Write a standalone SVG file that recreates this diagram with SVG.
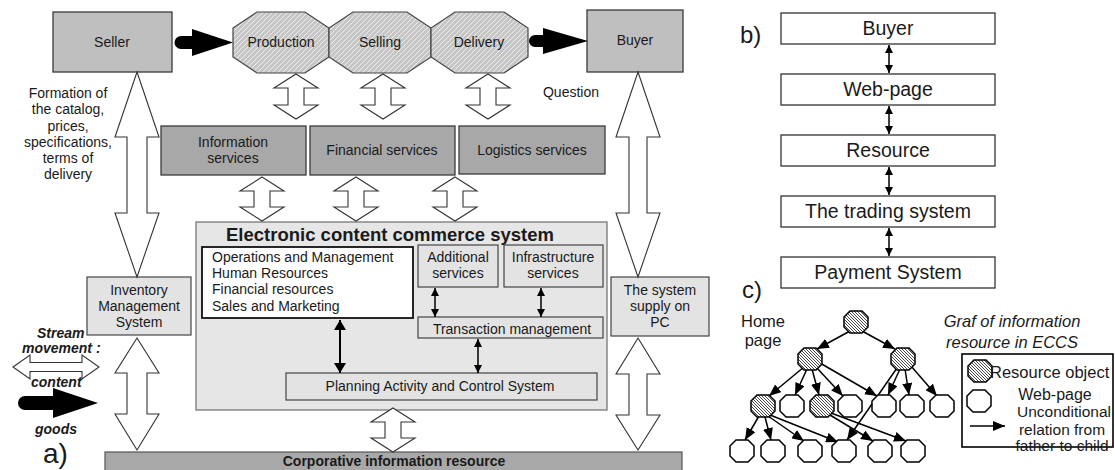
<svg xmlns="http://www.w3.org/2000/svg" width="1115" height="470" viewBox="0 0 1115 470">
<style>
text{font-family:"Liberation Sans",Arial,sans-serif;fill:#1a1a1a;}
.t14{font-size:14px;}
.mid{text-anchor:middle;}
.boxD{fill:#bfbfbf;stroke:#3a3a3a;stroke-width:1.3;}
.boxS{fill:#a8a8a8;stroke:#3a3a3a;stroke-width:1.3;}
.boxL{fill:#e3e3e3;stroke:#444;stroke-width:1.2;}
.boxW{fill:#fff;stroke:#111;stroke-width:1.8;}
.boxB{fill:#fff;stroke:#333;stroke-width:1.3;}
.oct{fill:url(#hatchG);stroke:#444;stroke-width:1.2;}
.hol{fill:#fff;stroke:#333;stroke-width:1.1;}
.blk{fill:#000;stroke:none;}
.dbl{stroke:#000;stroke-width:2;fill:none;marker-start:url(#hb);marker-end:url(#hb);}
.dbs{stroke:#000;stroke-width:1.5;fill:none;marker-start:url(#hs);marker-end:url(#hs);}
.edge{stroke:#000;stroke-width:1.5;fill:none;marker-end:url(#he);}
.gw{fill:#fff;stroke:#000;stroke-width:1.5;}
.gh{fill:url(#hatchK);stroke:#000;stroke-width:1.5;}
.bi{font-weight:bold;font-style:italic;font-size:14px;}
</style>
<defs>
<pattern id="hatchG" patternUnits="userSpaceOnUse" width="5" height="5">
<rect width="5" height="5" fill="#c6c6c6"/>
<path d="M-1,1 l2,-2 M0,5 l5,-5 M4,6 l2,-2" stroke="#ececec" stroke-width="1"/>
</pattern>
<pattern id="hatchK" patternUnits="userSpaceOnUse" width="3" height="3">
<rect width="3" height="3" fill="#fff"/>
<path d="M-1,-1 l5,5 M-1,2 l2,2 M2,-1 l2,2" stroke="#333" stroke-width="0.9"/>
</pattern>
<marker id="hb" viewBox="0 0 10 12" refX="10" refY="6" markerWidth="11" markerHeight="12" markerUnits="userSpaceOnUse" orient="auto-start-reverse">
<path d="M0,0 L10,6 L0,12 z" fill="#000"/>
</marker>
<marker id="hs" viewBox="0 0 10 10" refX="10" refY="5" markerWidth="8" markerHeight="9" markerUnits="userSpaceOnUse" orient="auto-start-reverse">
<path d="M0,0 L10,5 L0,10 z" fill="#000"/>
</marker>
<marker id="he" viewBox="0 0 12 10" refX="12" refY="5" markerWidth="12" markerHeight="10" markerUnits="userSpaceOnUse" orient="auto">
<path d="M0,0 L12,5 L0,10 z" fill="#000"/>
</marker>
<polygon id="octW" class="gw" points="-6,-11 6,-11 12,-5 12,5 6,11 -6,11 -12,5 -12,-5"/>
<polygon id="octH" class="gh" points="-6,-11 6,-11 12,-5 12,5 6,11 -6,11 -12,5 -12,-5"/>
</defs>
<rect width="1115" height="470" fill="#fff"/>

<!-- Part a -->
<g id="seller"><rect class="boxD" x="53" y="12" width="119" height="60"/><text class="t14 mid" x="112" y="47">Seller</text></g>
<g id="production"><polygon class="oct" points="257,12 305,12 329,28 329,57 305,73 257,73 233,57 233,28"/><text class="t14 mid" x="281" y="47">Production</text></g>
<g id="selling"><polygon class="oct" points="353,12 407,12 431,28 431,57 407,73 353,73 329,57 329,28"/><text class="t14 mid" x="380" y="47">Selling</text></g>
<g id="delivery"><polygon class="oct" points="455,12 504,12 528,28 528,57 504,73 455,73 431,57 431,28"/><text class="t14 mid" x="479" y="47">Delivery</text></g>
<g id="buyer"><rect class="boxD" x="587" y="10" width="96" height="62"/><text class="t14 mid" x="635" y="45">Buyer</text></g>
<g id="question"><text class="t14 mid" x="571" y="97" fill="#333">Question</text></g>
<g id="formation"><text class="t14 mid" fill="#333"><tspan x="68" y="98">Formation of</tspan><tspan x="68" y="114">the catalog,</tspan><tspan x="68" y="131">prices,</tspan><tspan x="68" y="147">specifications,</tspan><tspan x="68" y="163">terms of</tspan><tspan x="68" y="179">delivery</tspan></text></g>

<g id="info-services"><rect class="boxS" x="161" y="126" width="145" height="49"/><text class="t14 mid"><tspan x="233" y="147">Information</tspan><tspan x="233" y="163">services</tspan></text></g>
<g id="fin-services"><rect class="boxS" x="310" y="126" width="145" height="49"/><text class="t14 mid" x="382" y="155">Financial services</text></g>
<g id="log-services"><rect class="boxS" x="459" y="126" width="146" height="48"/><text class="t14 mid" x="532" y="155">Logistics services</text></g>

<g id="eccs"><rect x="196" y="222" width="411" height="188" fill="#e6e6e6" stroke="#777" stroke-width="1.3"/><text x="390" y="241" text-anchor="middle" font-size="18.5" font-weight="bold">Electronic content commerce system</text></g>
<g id="operations"><rect class="boxW" x="202" y="247" width="211" height="71"/><text class="t14"><tspan x="212" y="262">Operations and Management</tspan><tspan x="212" y="278">Human Resources</tspan><tspan x="212" y="294">Financial resources</tspan><tspan x="212" y="311">Sales and Marketing</tspan></text></g>
<g id="additional"><rect class="boxL" x="418" y="245" width="80" height="42"/><text class="t14 mid"><tspan x="458" y="262">Additional</tspan><tspan x="458" y="278">services</tspan></text></g>
<g id="infrastructure"><rect class="boxL" x="504" y="245" width="99" height="42"/><text class="t14 mid"><tspan x="553" y="262">Infrastructure</tspan><tspan x="553" y="278">services</tspan></text></g>
<g id="transaction"><rect class="boxL" x="418" y="317" width="185" height="21"/><text class="t14 mid" x="512" y="334">Transaction management</text></g>
<g id="planning"><rect class="boxL" x="286" y="373" width="311" height="27"/><text class="t14 mid" x="440" y="391">Planning Activity and Control System</text></g>

<g id="inventory"><rect class="boxL" x="87" y="277" width="104" height="58"/><text class="t14 mid"><tspan x="139" y="295">Inventory</tspan><tspan x="139" y="311">Management</tspan><tspan x="139" y="327">System</tspan></text></g>
<g id="supply"><rect class="boxL" x="611" y="277" width="98" height="59"/><text class="t14 mid"><tspan x="660" y="295">The system</tspan><tspan x="660" y="311">supply on</tspan><tspan x="660" y="327">PC</tspan></text></g>
<g id="corporative"><rect x="105" y="452" width="577" height="24" fill="#a8a8a8" stroke="#555" stroke-width="1.2"/><text x="394" y="466" text-anchor="middle" font-size="14" font-weight="bold">Corporative information resource</text></g>

<g id="legend-a">
<text class="bi" x="37" y="338">Stream</text>
<text class="bi" x="22" y="353">movement :</text>
<polygon class="hol" points="13,367 30,355 30,362.5 82,362.5 82,355 99,367 82,379 82,371.5 30,371.5 30,379"/>
<text class="bi" x="31" y="387">content</text>
<path class="blk" d="M53,396 L53,388 L98,403 L53,418 L53,410 L25,410 A7,7 0 0 1 25,396 Z"/>
<text class="bi" x="56" y="434" text-anchor="middle">goods</text>
<text x="43" y="463" font-size="28">a)</text>
</g>

<g id="connectors">
<path class="blk" d="M192,36 L192,29 L233,42.5 L192,56 L192,49 L181,49 A6.5,6.5 0 0 1 181,36 Z"/>
<path class="blk" d="M543,35 L543,28 L588,41 L543,54 L543,47 L535,47 A6,6 0 0 1 535,35 Z"/>
<polygon class="hol" points="296,74 318,88 304,88 304,105 318,105 296,119 274,105 288,105 288,88 274,88"/>
<polygon class="hol" points="383,74 405,88 391,88 391,105 405,105 383,119 361,105 375,105 375,88 361,88"/>
<polygon class="hol" points="488,74 510,88 496,88 496,105 510,105 488,119 466,105 480,105 480,88 466,88"/>
<polygon class="hol" points="262,177 284,191 270,191 270,207 284,207 262,221 240,207 254,207 254,191 240,191"/>
<polygon class="hol" points="356,177 378,191 364,191 364,207 378,207 356,221 334,207 348,207 348,191 334,191"/>
<polygon class="hol" points="455,177 477,191 463,191 463,207 477,207 455,221 433,207 447,207 447,191 433,191"/>
<polygon class="hol" points="393,408 415,422 401,422 401,438 415,438 393,452 371,438 385,438 385,422 371,422"/>
<polygon class="hol" points="137,72 159,137 147,137 147,213 159,213 137,277 115,213 127,213 127,137 115,137"/>
<polygon class="hol" points="638,72 660,137 647,137 647,213 660,213 638,277 616,213 629,213 629,137 616,137"/>
<polygon class="hol" points="137,338 159,373 147,373 147,414 159,414 137,450 115,414 127,414 127,373 115,373"/>
<polygon class="hol" points="638,338 660,374 647,374 647,415 660,415 638,450 616,415 629,415 629,374 616,374"/>
<line class="dbl" x1="340" y1="320" x2="340" y2="373"/>
<line class="dbs" x1="435" y1="288" x2="435" y2="317"/>
<line class="dbs" x1="541" y1="288" x2="541" y2="317"/>
<line class="dbs" x1="478" y1="339" x2="478" y2="373"/>
<line class="dbs" x1="889" y1="45" x2="889" y2="73"/>
<line class="dbs" x1="889" y1="106" x2="889" y2="134"/>
<line class="dbs" x1="889" y1="167" x2="889" y2="195"/>
<line class="dbs" x1="889" y1="228" x2="889" y2="256"/>
<line class="edge" x1="850" y1="331" x2="817" y2="349"/>
<line class="edge" x1="862" y1="331" x2="895" y2="349"/>
<line class="edge" x1="804" y1="367" x2="769" y2="396"/>
<line class="edge" x1="807" y1="369" x2="795" y2="395"/>
<line class="edge" x1="812" y1="369" x2="819" y2="395"/>
<line class="edge" x1="816" y1="367" x2="843" y2="396"/>
<line class="edge" x1="820" y1="363" x2="877" y2="396"/>
<line class="edge" x1="897" y1="368" x2="847" y2="440"/>
<line class="edge" x1="900" y1="369" x2="888" y2="395"/>
<line class="edge" x1="905" y1="369" x2="909" y2="395"/>
<line class="edge" x1="911" y1="366" x2="937" y2="396"/>
<line class="edge" x1="759" y1="416" x2="745" y2="440"/>
<line class="edge" x1="765" y1="417" x2="771" y2="440"/>
<line class="edge" x1="768" y1="416" x2="804" y2="441"/>
<line class="edge" x1="770" y1="415" x2="838" y2="442"/>
<line class="edge" x1="830" y1="415" x2="873" y2="441"/>
<line class="edge" x1="831" y1="413" x2="906" y2="441"/>
<line class="edge" x1="970" y1="426" x2="1005" y2="426"/>
</g>

<!-- Part b -->
<g id="b-label"><text x="740" y="43" font-size="24">b)</text></g>
<g id="b-buyer"><rect class="boxB" x="781" y="13" width="214" height="31"/><text class="mid" x="888" y="35" font-size="19.5">Buyer</text></g>
<g id="b-webpage"><rect class="boxB" x="781" y="74" width="214" height="31"/><text class="mid" x="888" y="96" font-size="19.5">Web-page</text></g>
<g id="b-resource"><rect class="boxB" x="781" y="135" width="214" height="31"/><text class="mid" x="888" y="157" font-size="19.5">Resource</text></g>
<g id="b-trading"><rect class="boxB" x="781" y="196" width="214" height="31"/><text class="mid" x="888" y="218" font-size="19.5">The trading system</text></g>
<g id="b-payment"><rect class="boxB" x="781" y="257" width="214" height="31"/><text class="mid" x="888" y="279" font-size="19.5">Payment System</text></g>

<!-- Part c -->
<g id="c-label"><text x="742" y="298" font-size="24">c)</text></g>
<g id="c-home"><text class="mid" font-size="16.5"><tspan x="763" y="327">Home</tspan><tspan x="763" y="346">page</tspan></text></g>
<g id="c-title"><text class="mid" font-size="16.5" font-style="italic"><tspan x="1012" y="327">Graf of information</tspan><tspan x="1012" y="348">resource in ECCS</tspan></text></g>
<g id="n-root"><use href="#octH" x="856" y="322"/></g>
<g id="n-l1a"><use href="#octH" x="810" y="359"/></g>
<g id="n-l1b"><use href="#octH" x="903" y="359"/></g>
<g id="n-l2a"><use href="#octH" x="763" y="406"/></g>
<g id="n-l2b"><use href="#octW" x="792" y="406"/></g>
<g id="n-l2c"><use href="#octH" x="822" y="406"/></g>
<g id="n-l2d"><use href="#octW" x="850" y="406"/></g>
<g id="n-l2e"><use href="#octW" x="884" y="406"/></g>
<g id="n-l2f"><use href="#octW" x="912" y="406"/></g>
<g id="n-l2g"><use href="#octW" x="942" y="406"/></g>
<g id="n-l3a"><use href="#octW" x="742" y="451"/></g>
<g id="n-l3b"><use href="#octW" x="773" y="451"/></g>
<g id="n-l3c"><use href="#octW" x="810" y="451"/></g>
<g id="n-l3d"><use href="#octW" x="844" y="451"/></g>
<g id="n-l3e"><use href="#octW" x="880" y="451"/></g>
<g id="n-l3f"><use href="#octW" x="913" y="451"/></g>
<g id="c-legend">
<rect x="962" y="354" width="151" height="93" fill="none" stroke="#000" stroke-width="1.6"/>
<use href="#octH" x="980" y="371"/>
<use href="#octW" x="979" y="401"/>
<text x="990" y="378" font-size="16.5">Resource object</text>
<text class="mid" x="1055" y="400" font-size="16">Web-page</text>
<text class="mid" font-size="15.5"><tspan x="1064" y="417">Unconditional</tspan><tspan x="1062" y="435">relation from</tspan><tspan x="1062" y="451">father to child</tspan></text>
</g>
</svg>
